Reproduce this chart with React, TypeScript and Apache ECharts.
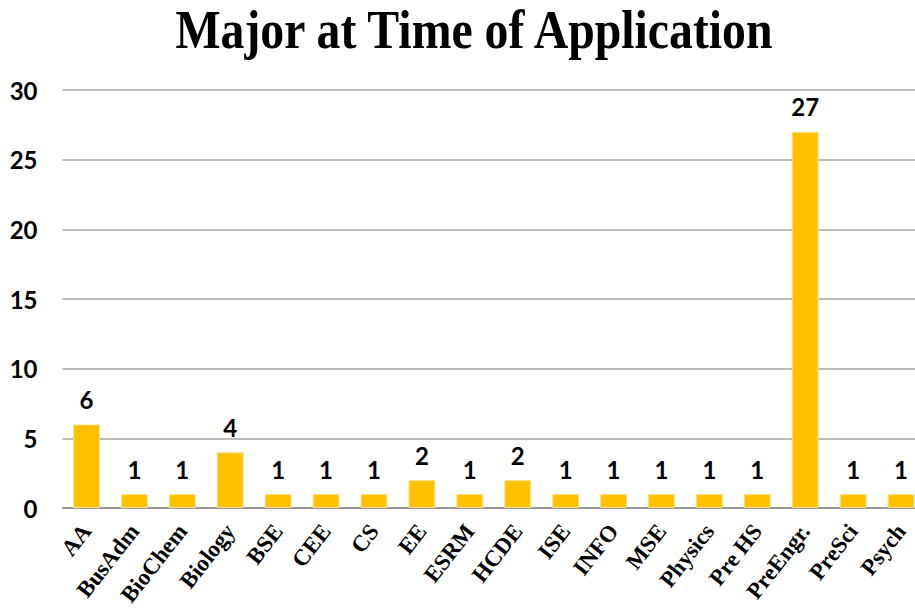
import React, { useEffect, useRef } from "react";
import * as echarts from "echarts";

const categories = [
  "AA", "BusAdm", "BioChem", "Biology", "BSE", "CEE", "CS", "EE", "ESRM",
  "HCDE", "ISE", "INFO", "MSE", "Physics", "Pre HS", "PreEngr.", "PreSci", "Psych",
];
const counts = [6, 1, 1, 4, 1, 1, 1, 2, 1, 2, 1, 1, 1, 1, 1, 27, 1, 1];
const yMin = 0;
const yMax = 30;
const yStep = 5;

const title = "Major at Time of Application";
const barColor = "#FFC000";
const labelFont = "Lato, 'Open Sans', sans-serif";
const serifFont = "'Liberation Serif', 'DejaVu Serif', serif";

export default function App() {
  const ref = useRef<HTMLDivElement>(null);

  useEffect(() => {
    if (!ref.current) return;
    const chart = echarts.init(ref.current, undefined, { renderer: "svg" });
    chart.setOption({
      animation: false,
      backgroundColor: "#ffffff",
      graphic: [
        {
          // condensed bold serif heading
          type: "text",
          x: 474,
          y: 30,
          scaleX: 0.885,
          style: {
            text: title,
            x: 0,
            y: 0,
            align: "center",
            verticalAlign: "middle",
            fontFamily: serifFont,
            fontWeight: "bold",
            fontSize: 54,
            fill: "#000000",
          },
        },
      ],
      grid: { left: 62.5, right: -10, top: 90, bottom: 103, outerBoundsMode: "none" },
      xAxis: {
        type: "category",
        data: categories,
        axisLine: { show: true, lineStyle: { color: "#8c8c8c", width: 1.5 } },
        axisTick: { show: false },
        axisLabel: {
          interval: 0,
          rotate: 52,
          margin: 19,
          fontFamily: serifFont,
          fontWeight: "bold",
          fontSize: 23,
          color: "#000000",
        },
      },
      yAxis: {
        type: "value",
        min: yMin,
        max: yMax,
        interval: yStep,
        axisLine: { show: false },
        axisTick: { show: false },
        splitLine: { lineStyle: { color: "#a6a6a6", width: 1.5 } },
        axisLabel: {
          margin: 25,
          fontFamily: labelFont,
          fontWeight: "bold",
          fontSize: 24,
          color: "#000000",
        },
      },
      series: [
        {
          type: "bar",
          data: counts,
          barCategoryGap: "44%",
          itemStyle: {
            color: barColor,
            borderColor: "#FFE08A",
            borderWidth: 1,
          },
          label: {
            show: true,
            position: "top",
            distance: 13,
            fontFamily: labelFont,
            fontWeight: "bold",
            fontSize: 24,
            color: "#000000",
          },
        },
      ],
    });
    return () => chart.dispose();
  }, []);

  return (
    <div
      ref={ref}
      style={{ position: "fixed", left: 0, top: 0, width: 915, height: 611 }}
    />
  );
}
